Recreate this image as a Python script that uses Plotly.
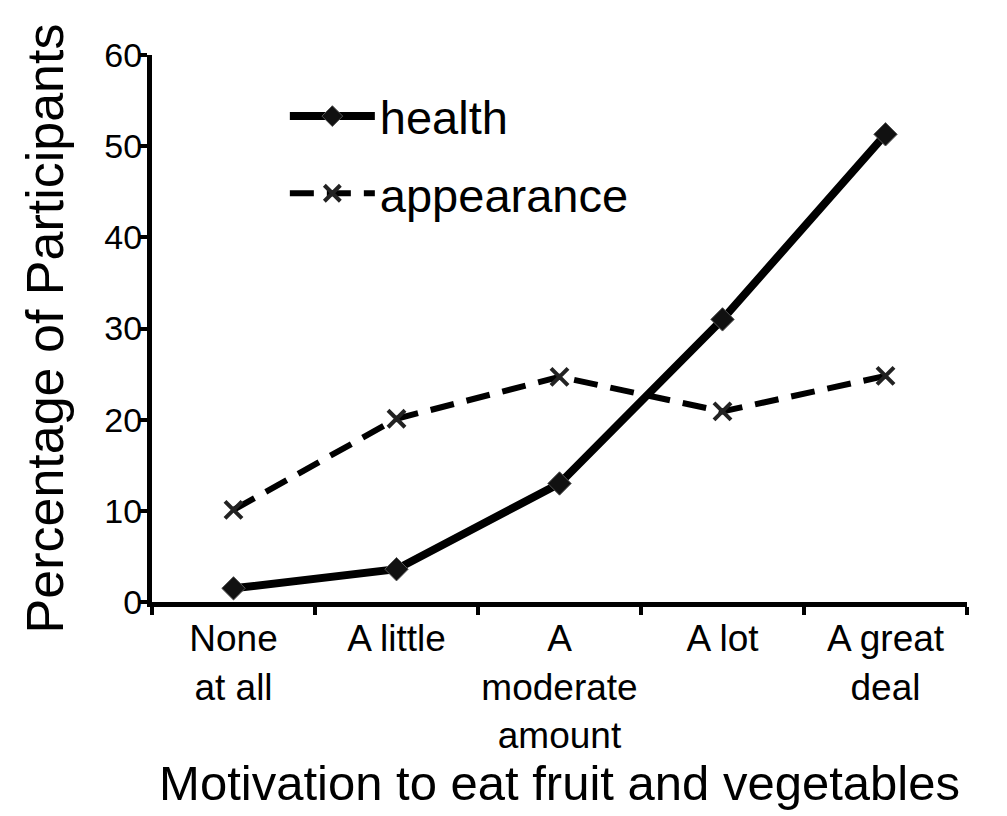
import plotly.graph_objects as go

categories = ["None<br>at all", "A little", "A<br>moderate<br>amount", "A lot", "A great<br>deal"]
health = [1.5, 3.6, 13.0, 31.0, 51.3]
appearance = [10.1, 20.1, 24.7, 20.9, 24.8]
y_ticks = [0, 10, 20, 30, 40, 50, 60]

FONT = "Liberation Sans, Arial, sans-serif"

fig = go.Figure()
fig.add_trace(go.Scatter(
    x=categories, y=health, name="health", mode="lines+markers",
    line=dict(color="black", width=8),
    marker=dict(symbol="diamond", size=18, color="#111", line=dict(color="#555", width=1)),
    legendgroup="h",
))
fig.add_trace(go.Scatter(
    x=categories, y=appearance, name="appearance", mode="lines+markers",
    line=dict(color="black", width=6, dash="24px,13px"),
    marker=dict(symbol="x-thin", size=17, color="#111", line=dict(color="#222", width=4)),
    legendgroup="a",
))

fig.update_layout(
    width=1007, height=816,
    margin=dict(l=144, r=48, t=47, b=222),
    paper_bgcolor="white", plot_bgcolor="white",
    font=dict(family=FONT, color="black"),
    showlegend=True,
    legend=dict(
        x=0.163, y=0.956, xanchor="left", yanchor="top",
        font=dict(size=47, family=FONT, color="black"),
        bgcolor="rgba(0,0,0,0)", tracegroupgap=13, itemwidth=85,
    ),
    xaxis=dict(
        type="category", range=[-0.5, 4.5], automargin=False,
        showline=True, linecolor="black", linewidth=5,
        ticks="outside", tickson="boundaries", ticklen=8, tickwidth=4, tickcolor="black",
        tickangle=0,
        tickfont=dict(size=37, family=FONT, color="black"),
        showgrid=False, zeroline=False,
        title=dict(text="Motivation to eat fruit and vegetables",
                   font=dict(size=49, family=FONT, color="black"), standoff=0),
    ),
    yaxis=dict(
        range=[0, 60], tickvals=y_ticks, automargin=False,
        showline=True, linecolor="black", linewidth=5,
        ticks="outside", ticklen=7, tickwidth=4, tickcolor="black",
        ticklabelstandoff=-9,
        tickfont=dict(size=34, family=FONT, color="black"),
        showgrid=False, zeroline=False,
        title=dict(text="Percentage of Participants",
                   font=dict(size=52, family=FONT, color="black"), standoff=26),
    ),
)

fig.write_html("out.html")
